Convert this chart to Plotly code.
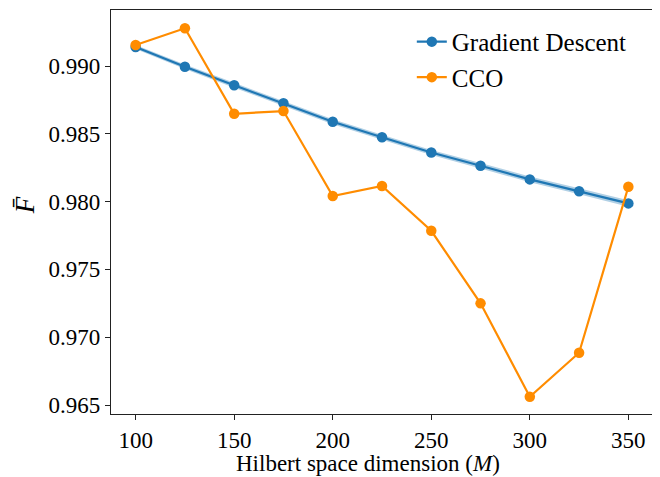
import plotly.graph_objects as go

dims = [100, 125, 150, 175, 200, 225, 250, 275, 300, 325, 350]
gd_mean = [0.9914, 0.98995, 0.98858, 0.98725, 0.98589, 0.98475, 0.98362, 0.98265, 0.98164, 0.98076, 0.97987]
gd_lower = [0.99125, 0.98978, 0.98840, 0.98707, 0.98570, 0.98456, 0.98343, 0.98245, 0.98143, 0.98054, 0.97963]
gd_upper = [0.99155, 0.99012, 0.98876, 0.98743, 0.98608, 0.98494, 0.98381, 0.98285, 0.98185, 0.98098, 0.98011]
cco = [0.99155, 0.99278, 0.98648, 0.98668, 0.98041, 0.98115, 0.97785, 0.9725, 0.96561, 0.96886, 0.9811]

x_ticks = [100, 150, 200, 250, 300, 350]
y_ticks = [0.965, 0.970, 0.975, 0.980, 0.985, 0.990]

BLUE = "#1f77b4"
ORANGE = "#ff8c00"
FONT = "Liberation Serif"

fig = go.Figure()
fig.add_trace(go.Scatter(x=dims, y=gd_lower, mode="lines", line=dict(width=0),
                         showlegend=False, hoverinfo="skip"))
fig.add_trace(go.Scatter(x=dims, y=gd_upper, mode="lines", line=dict(width=0),
                         fill="tonexty", fillcolor="rgba(31,119,180,0.35)",
                         showlegend=False, hoverinfo="skip"))
fig.add_trace(go.Scatter(x=dims, y=gd_mean, mode="lines+markers", name="Gradient Descent",
                         line=dict(color=BLUE, width=2.2),
                         marker=dict(color=BLUE, size=10.5)))
fig.add_trace(go.Scatter(x=dims, y=cco, mode="lines+markers", name="CCO",
                         line=dict(color=ORANGE, width=2.2),
                         marker=dict(color=ORANGE, size=10.5)))

axis_common = dict(showgrid=False, zeroline=False, showline=True, mirror=True,
                   linecolor="#222", linewidth=1.2, ticks="outside", ticklen=5,
                   tickwidth=1.2, tickcolor="#222", automargin=False,
                   tickfont=dict(family=FONT, size=23, color="black"))

fig.update_xaxes(range=[87.5, 362.5], tickvals=x_ticks,
                 ticktext=[str(v) for v in x_ticks], **axis_common)
fig.update_yaxes(range=[0.96434, 0.99413], tickvals=y_ticks,
                 ticktext=[f"{v:.3f}" for v in y_ticks], **axis_common)

fig.add_annotation(text="Hilbert space dimension (<i>M</i>)", xref="paper", yref="paper",
                   x=0.4737, y=0, xanchor="center", yanchor="middle", yshift=-49,
                   showarrow=False, font=dict(family=FONT, size=23, color="black"))
fig.add_annotation(text="<i>F̄</i>", xref="paper", yref="paper",
                   x=0, y=0.517, xanchor="center", yanchor="middle", xshift=-86,
                   textangle=-90, showarrow=False,
                   font=dict(family=FONT, size=27, color="black"))

# page body has an 8px margin; figure is sized/offset to compensate
fig.update_layout(
    width=652, height=469,
    margin=dict(l=103, r=7, t=2, b=63, autoexpand=False),
    plot_bgcolor="white", paper_bgcolor="white",
    legend=dict(x=0.555, y=0.978, xanchor="left", yanchor="top", traceorder="normal",
                bgcolor="rgba(0,0,0,0)", font=dict(family=FONT, size=25, color="black"),
                tracegroupgap=0),
)

fig.write_html("out.html")
